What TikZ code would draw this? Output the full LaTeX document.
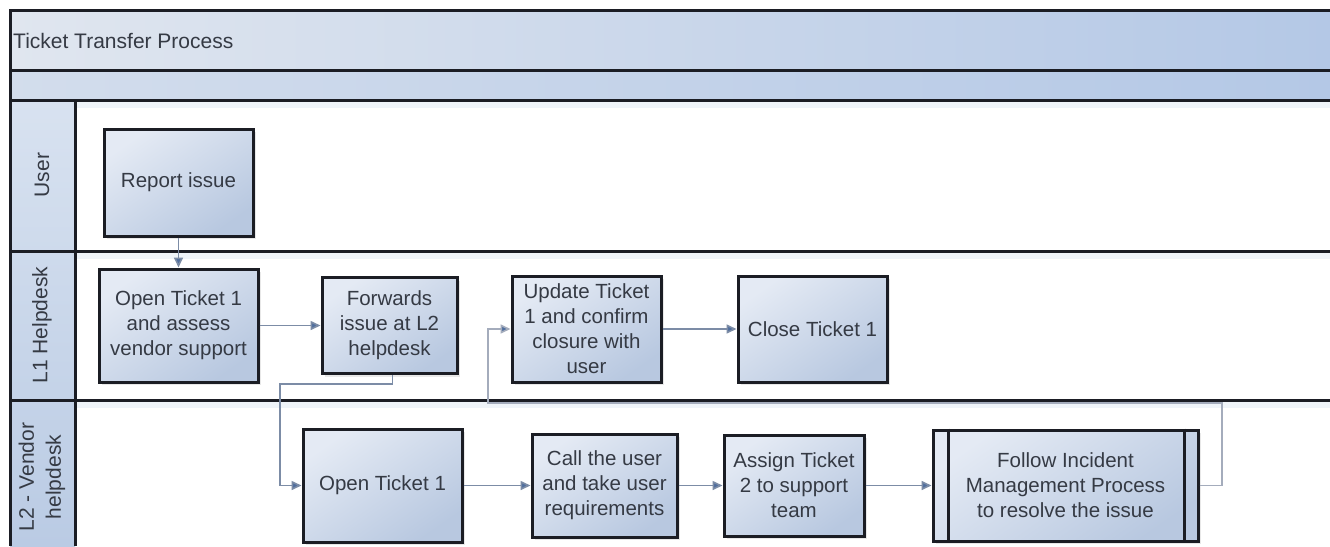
\documentclass[tikz,border=0pt]{standalone}
\usepackage{fontspec}
\setmainfont{Liberation Sans}
\usetikzlibrary{arrows.meta,shadows}
\definecolor{boxT}{HTML}{E4EAF4}
\definecolor{boxB}{HTML}{B8C8E0}
\definecolor{bandL}{HTML}{E0E6EF}
\definecolor{bandR}{HTML}{B4C8E6}
\definecolor{hdrL}{HTML}{D8E2F0}
\definecolor{hdrR}{HTML}{BACBE4}
\definecolor{linec}{HTML}{1B1D24}
\definecolor{connc}{HTML}{7C8CA6}
\definecolor{loopc}{HTML}{A4ACBC}
\definecolor{tipc}{HTML}{4F6E9E}
\definecolor{txtc}{HTML}{353A44}
\tikzset{
  x=1pt, y=-1pt,
  lane/.style={line width=3pt, draw=linec},
  proc/.style={draw=linec, line width=3pt, rectangle, top color=boxT, bottom color=boxB,
    shading angle=35,
    align=center, text=txtc, font=\fontsize{20.5}{25}\selectfont, inner sep=1pt,
    drop shadow={shadow xshift=3pt, shadow yshift=-3pt, opacity=0.18}},
  conn/.style={draw=connc, line width=1.6pt, -{Triangle[length=10pt,width=9pt,fill=tipc]}},
  loopconn/.style={conn, draw=loopc},
  lbl/.style={text=txtc, font=\fontsize{21}{27}\selectfont, align=center},
}
\begin{document}
\begin{tikzpicture}
\useasboundingbox (0,0) rectangle (1330,546);
\fill[white] (0,0) rectangle (1330,546);
% bands
\shade[left color=bandL, right color=bandR] (10,10) rectangle (1330,70);
\shade[left color=bandL!70!bandR, right color=bandR] (10,70) rectangle (1330,100);
\shade[top color=hdrL, bottom color=hdrR] (10,100) rectangle (75,546);
\fill[hdrL!40] (75,100) rectangle (1330,108);
\fill[hdrL!40] (75,251) rectangle (1330,259);
\fill[hdrL!40] (75,400) rectangle (1330,408);
% lane lines
\draw[lane] (1330,10) -- (10,10) -- (10,546);
\draw[lane] (10,70) -- (1330,70);
\draw[lane] (10,100) -- (1330,100);
\draw[lane] (10,251) -- (1330,251);
\draw[lane] (10,400) -- (1330,400);
\draw[lane] (75,100) -- (75,546);
% labels
\node[lbl, anchor=west, inner sep=0pt] (title) at (13,41) {Ticket Transfer Process};
\node[lbl, rotate=90] (luser) at (42,175) {User};
\node[lbl, rotate=90] (ll1) at (42,325) {L1 Helpdesk};
\node[lbl, rotate=90] (ll2) at (42,477) {L2 - Vendor\\helpdesk};
% process boxes
\node[proc, minimum width=149pt, minimum height=107pt] (report) at (178.5,182.5) {Report issue};
\node[proc, minimum width=159pt, minimum height=113pt] (open1) at (178.5,325.5) {Open Ticket 1\\and assess\\vendor support};
\node[proc, minimum width=135pt, minimum height=96pt] (fwd) at (389.5,325.5) {Forwards\\issue at L2\\helpdesk};
\node[proc, minimum width=149pt, minimum height=106pt] (update) at (586.5,329) {Update Ticket\\1 and confirm\\closure with\\user};
\node[proc, minimum width=149pt, minimum height=106pt] (close) at (812.5,329) {Close Ticket 1};
\node[proc, minimum width=159pt, minimum height=113pt] (open2) at (382.5,485.5) {Open Ticket 1};
\node[proc, minimum width=145pt, minimum height=103pt] (call) at (604.5,485.5) {Call the user\\and take user\\requirements};
\node[proc, minimum width=140pt, minimum height=101pt] (assign) at (794,485.5) {Assign Ticket\\2 to support\\team};
\node[proc, minimum width=265pt, minimum height=111pt] (follow) at (1065.5,485.5) {Follow Incident\\Management Process\\to resolve the issue};
\draw[linec, line width=3pt] ([xshift=17pt]follow.north west) -- ([xshift=17pt]follow.south west);
\draw[linec, line width=3pt] ([xshift=-15pt]follow.north east) -- ([xshift=-15pt]follow.south east);
% connectors
\coordinate (c1) at (280,384);
\coordinate (c2) at (1222,403);
\coordinate (c3) at (488,403);
\draw[conn] (report.south) -- (open1.north);
\draw[conn] (open1.east) -- (fwd.west);
\draw[conn] ([xshift=3pt]fwd.south) |- (c1) |- (open2.west);
\draw[conn] (open2.east) -- (call.west);
\draw[conn] (call.east) -- (assign.west);
\draw[conn] (assign.east) -- (follow.west);
\draw[loopconn] (follow.east) -| (c2) -- (c3) |- (update.west);
\draw[conn] (update.east) -- (close.west);
\end{tikzpicture}
\end{document}
